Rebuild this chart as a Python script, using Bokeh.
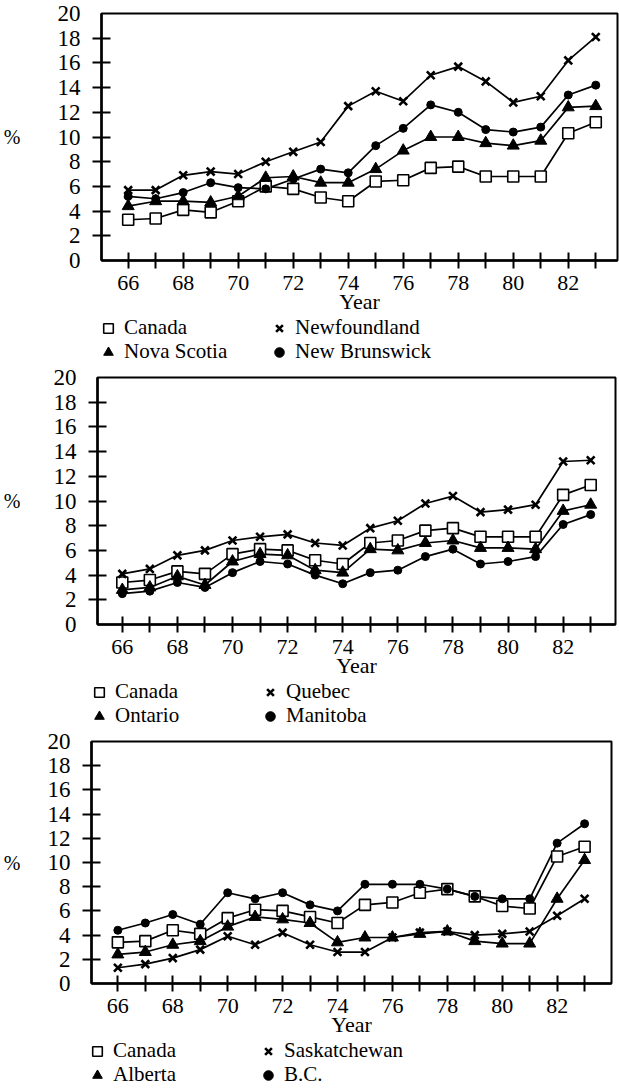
from bokeh.plotting import figure
from bokeh.models import FixedTicker, Legend, LegendItem, Range1d
from bokeh.embed import file_html
from bokeh.resources import INLINE

# ---------------- data ----------------
years = [66, 67, 68, 69, 70, 71, 72, 73, 74, 75, 76, 77, 78, 79, 80, 81, 82, 83]
y_ticks = [0, 2, 4, 6, 8, 10, 12, 14, 16, 18, 20]
x_label_ticks = [66, 68, 70, 72, 74, 76, 78, 80, 82]

# panel 1
canada_1 = [3.3, 3.4, 4.1, 3.9, 4.8, 6.0, 5.8, 5.1, 4.8, 6.4, 6.5, 7.5, 7.6, 6.8, 6.8, 6.8, 10.3, 11.2]
newfoundland = [5.7, 5.7, 6.9, 7.2, 7.0, 8.0, 8.8, 9.6, 12.5, 13.7, 12.9, 15.0, 15.7, 14.5, 12.8, 13.3, 16.2, 18.1]
nova_scotia = [4.4, 4.8, 4.8, 4.7, 5.2, 6.7, 6.8, 6.3, 6.3, 7.4, 8.9, 10.0, 10.0, 9.5, 9.3, 9.7, 12.4, 12.5]
new_brunswick = [5.2, 5.0, 5.5, 6.3, 5.9, 5.8, 6.6, 7.4, 7.1, 9.3, 10.7, 12.6, 12.0, 10.6, 10.4, 10.8, 13.4, 14.2]

# panel 2
canada_2 = [3.4, 3.6, 4.3, 4.1, 5.7, 6.1, 6.0, 5.2, 4.9, 6.6, 6.8, 7.6, 7.8, 7.1, 7.1, 7.1, 10.5, 11.3]
quebec = [4.1, 4.5, 5.6, 6.0, 6.8, 7.1, 7.3, 6.6, 6.4, 7.8, 8.4, 9.8, 10.4, 9.1, 9.3, 9.7, 13.2, 13.3]
ontario = [2.8, 3.0, 3.9, 3.2, 5.1, 5.7, 5.6, 4.4, 4.2, 6.1, 6.0, 6.6, 6.8, 6.2, 6.2, 6.1, 9.2, 9.7]
manitoba = [2.5, 2.7, 3.4, 3.0, 4.2, 5.1, 4.9, 4.0, 3.3, 4.2, 4.4, 5.5, 6.1, 4.9, 5.1, 5.5, 8.1, 8.9]

# panel 3
canada_3 = [3.4, 3.5, 4.4, 4.1, 5.4, 6.1, 6.0, 5.5, 5.0, 6.5, 6.7, 7.5, 7.8, 7.2, 6.4, 6.2, 10.5, 11.3]
saskatchewan = [1.3, 1.6, 2.1, 2.8, 3.9, 3.2, 4.2, 3.2, 2.6, 2.6, 3.8, 4.2, 4.3, 4.0, 4.1, 4.3, 5.6, 7.0]
alberta = [2.4, 2.6, 3.2, 3.5, 4.7, 5.5, 5.3, 5.0, 3.4, 3.8, 3.8, 4.1, 4.3, 3.5, 3.3, 3.3, 7.0, 10.2]
bc = [4.4, 5.0, 5.7, 4.9, 7.5, 7.0, 7.5, 6.5, 6.0, 8.2, 8.2, 8.2, 7.8, 7.2, 7.0, 7.0, 11.6, 13.2]

FONT = "Liberation Serif"

MARKERS = {
    "square": dict(marker="square", size=11, fill_color="white", line_color="black", line_width=1.6),
    "triangle": dict(marker="triangle", size=12, fill_color="black", line_color="black", line_width=1),
    "x": dict(marker="x", size=11, fill_color=None, line_color="black", line_width=2.6),
    "circle": dict(marker="circle", size=8, fill_color="black", line_color="black", line_width=1),
}


def make_panel(height, b_top, b_bottom, b_left, b_right, x_start, x_end, pct_standoff, series):
    p = figure(width=619, height=height, output_backend="svg", toolbar_location=None,
               x_range=Range1d(x_start, x_end), y_range=Range1d(0, 20),
               min_border_top=b_top, min_border_bottom=b_bottom,
               min_border_left=b_left, min_border_right=b_right)
    p.grid.visible = False
    p.outline_line_color = "black"
    p.outline_line_width = 2
    p.outline_line_alpha = 1
    p.background_fill_color = "white"
    p.border_fill_color = "white"

    # y axis
    p.yaxis.ticker = FixedTicker(ticks=y_ticks, minor_ticks=y_ticks[1:-1])
    p.yaxis.major_tick_in = 0
    p.yaxis.major_tick_out = 0
    p.yaxis.minor_tick_in = 9
    p.yaxis.minor_tick_out = 9
    p.yaxis.minor_tick_line_width = 2
    p.yaxis.minor_tick_line_color = "black"
    p.yaxis.axis_line_width = 2.5
    p.yaxis.axis_line_color = "black"
    p.yaxis.major_label_text_font = FONT
    p.yaxis.major_label_text_font_size = "23px"
    p.yaxis.major_label_text_color = "black"
    p.yaxis.major_label_standoff = 12
    p.yaxis.axis_label = "%"
    p.yaxis.axis_label_orientation = "horizontal"
    p.yaxis.axis_label_text_font = FONT
    p.yaxis.axis_label_text_font_size = "20px"
    p.yaxis.axis_label_text_font_style = "normal"
    p.yaxis.axis_label_text_color = "black"
    p.yaxis.axis_label_standoff = pct_standoff

    # x axis
    p.xaxis.ticker = FixedTicker(ticks=x_label_ticks, minor_ticks=years)
    p.xaxis.major_tick_in = 0
    p.xaxis.major_tick_out = 0
    p.xaxis.minor_tick_in = 8
    p.xaxis.minor_tick_out = 8
    p.xaxis.minor_tick_line_width = 2
    p.xaxis.minor_tick_line_color = "black"
    p.xaxis.axis_line_width = 2.5
    p.xaxis.axis_line_color = "black"
    p.xaxis.major_label_text_font = FONT
    p.xaxis.major_label_text_font_size = "22px"
    p.xaxis.major_label_text_color = "black"
    p.xaxis.major_label_standoff = 7
    p.xaxis.axis_label = "Year"
    p.xaxis.axis_label_text_font = FONT
    p.xaxis.axis_label_text_font_size = "22px"
    p.xaxis.axis_label_text_font_style = "normal"
    p.xaxis.axis_label_text_color = "black"
    p.xaxis.axis_label_standoff = -4

    for name, vals, mk in series:
        p.line(years, vals, line_color="black", line_width=1.7)
    for name, vals, mk in series:
        p.scatter(years, vals, **MARKERS[mk])
    return p


def make_legend(height, vx, row_vys, series):
    """Key strip under a panel: Bokeh legends, two rows of two entries."""
    lf = figure(width=619, height=height, output_backend="svg", toolbar_location=None,
                x_range=Range1d(0, 1), y_range=Range1d(0, 1),
                min_border=0, min_border_left=0, min_border_right=0,
                min_border_top=0, min_border_bottom=0)
    lf.axis.visible = False
    lf.grid.visible = False
    lf.outline_line_alpha = 0
    lf.background_fill_color = "white"
    lf.border_fill_color = "white"
    items = []
    for name, vals, mk in series:
        # one point placed outside the visible range, only so the key can draw the marker
        r = lf.scatter([-5], [-5], **MARKERS[mk])
        items.append(LegendItem(label=name, renderers=[r]))
    rows = [[items[0], items[2]], [items[1], items[3]]]
    for row, vy in zip(rows, row_vys):
        leg = Legend(items=row, location=(vx, vy), orientation="horizontal",
                     label_text_font=FONT, label_text_font_size="21px", label_text_color="black",
                     border_line_alpha=0, background_fill_alpha=0, padding=0, margin=0,
                     spacing=4, glyph_width=24, glyph_height=24, label_height=24,
                     label_width=139, label_standoff=4)
        lf.add_layout(leg)
    return lf


s1 = [("Canada", canada_1, "square"), ("Nova Scotia", nova_scotia, "triangle"),
      ("Newfoundland", newfoundland, "x"), ("New Brunswick", new_brunswick, "circle")]
s2 = [("Canada", canada_2, "square"), ("Ontario", ontario, "triangle"),
      ("Quebec", quebec, "x"), ("Manitoba", manitoba, "circle")]
s3 = [("Canada", canada_3, "square"), ("Alberta", alberta, "triangle"),
      ("Saskatchewan", saskatchewan, "x"), ("B.C.", bc, "circle")]

p1 = make_panel(316, 13, 55, 101, 2, 65.03, 83.79, 34, s1)
l1 = make_legend(48, 96, (24, 0), s1)
p2 = make_panel(316, 13, 55, 97, 4, 65.10, 83.90, 30, s2)
l2 = make_legend(48, 87, (24, 0), s2)
p3 = make_panel(311, 13, 55, 91, 8, 65.04, 83.98, 24, s3)
l3 = make_legend(48, 85, (24, 0), s3)

open("out.html", "w").write(file_html([p1, l1, p2, l2, p3, l3], INLINE))
